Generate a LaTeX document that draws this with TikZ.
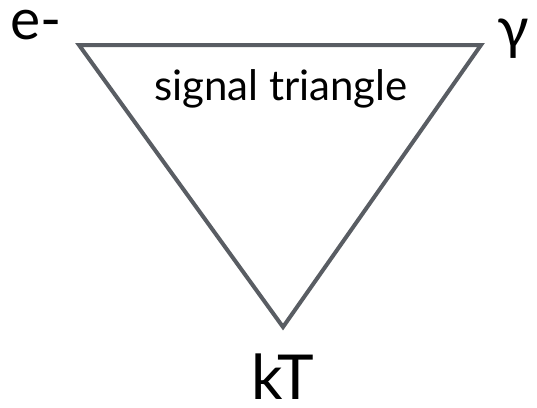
\documentclass[tikz,border=0pt]{standalone}
\usepackage{fontspec}
\setmainfont{Lato}
\definecolor{edge}{HTML}{595D63}
\tikzset{
  lbl/.style={inner sep=0pt, text=black},
  tri/.style={draw=edge, line width=4pt, line join=miter}
}
\begin{document}
\begin{tikzpicture}[x=1pt,y=-1pt]
\useasboundingbox (0,0) rectangle (537,407);
\coordinate (tl) at (79,45);
\coordinate (tr) at (481,45);
\coordinate (bt) at (283,327);
\draw[tri] (tl) -- (tr) -- (bt) -- cycle;
\node[lbl, anchor=base west, text height=30pt, font=\fontsize{57}{60}\selectfont] (e) at (10,39) {e-};
\node[lbl, anchor=base west, text height=30pt, font=\fontsize{58}{60}\selectfont] (g) at (497,48) {γ};
\node[lbl, anchor=base, text depth=0pt, font=\fontsize{62}{64}\selectfont] (kt) at (283,399) {kT};
\node[lbl, anchor=base, font=\fontsize{42}{44}\selectfont] (s) at (281,100) {signal triangle};
\end{tikzpicture}
\end{document}
